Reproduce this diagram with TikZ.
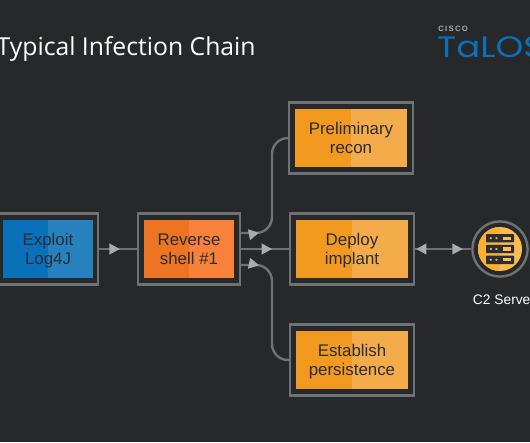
\documentclass[tikz,border=0pt]{standalone}
\usepackage{fontspec}
\setmainfont{Open Sans}
\newfontfamily\arialfont{Liberation Sans}
\newfontfamily\logofont{Poppins}
\usetikzlibrary{arrows.meta,decorations.markings}
\definecolor{bgdark}{HTML}{27282A}
\definecolor{wiregray}{HTML}{6E7275}
\definecolor{tipgray}{HTML}{A8ACAF}
\definecolor{inkdark}{HTML}{2A2D33}
\definecolor{blueL}{HTML}{0A70BA}
\definecolor{blueR}{HTML}{2781BF}
\definecolor{orangeL}{HTML}{EC7423}
\definecolor{orangeR}{HTML}{F8823B}
\definecolor{amberL}{HTML}{F29A20}
\definecolor{amberR}{HTML}{F4AC4A}
\definecolor{goldL}{HTML}{FBB034}
\definecolor{goldR}{HTML}{FDBD4E}
\tikzset{
  frame/.style={draw=wiregray,line width=.06cm,minimum width=2.5cm,minimum height=1.775cm},
  wideframe/.style={frame,minimum width=3.1cm},
  card/.style 2 args={minimum width=2.25cm,minimum height=1.45cm,fill=#2,text=inkdark,
    align=center,font=\arialfont\fontsize{12}{13.6}\selectfont,text height=.87cm,text depth=.09cm,
    path picture={\fill[#1] (path picture bounding box.south west) rectangle (path picture bounding box.north);}},
  widecard/.style 2 args={card={#1}{#2},minimum width=2.8cm},
  wire/.style={draw=wiregray,line width=.06cm},
  tipat/.style={postaction={decorate,decoration={markings,mark=at position #1 with {\arrow[tipgray]{Triangle[length=.26cm,width=.26cm]}}}}},
  tipback/.style={postaction={decorate,decoration={markings,mark=at position #1 with {\arrow[tipgray]{Triangle[reversed,length=.26cm,width=.26cm]}}}}}
}
\begin{document}
\begin{tikzpicture}
  \clip (0,0) rectangle (13.25,11.05);
  \fill[bgdark] (0,0) rectangle (13.25,11.05);

  \node[anchor=base west,text=white,inner sep=0pt,font=\fontsize{17.6}{22}\selectfont] (title) at (-.09,9.66) {Typical Infection Chain};
  \node[anchor=base west,text=tipgray,inner sep=0pt,font=\arialfont\bfseries\fontsize{5.5}{6}\selectfont] (cisco) at (10.95,10.26) {C\,I\,S\,C\,O};
  \node[anchor=base west,text=blueL,inner sep=0pt,xscale=1.2,font=\logofont\fontsize{21}{24}\selectfont] (talos) at (10.92,9.6) {TaLOS};

  \node[frame] (exploit) at (1.2,4.825) {};
  \node[card={blueL}{blueR}] (exploittxt) at (1.2,4.825) {Exploit\\Log4J};
  \node[frame,minimum width=2.55cm] (shell) at (4.725,4.825) {};
  \node[card={orangeL}{orangeR}] (shelltxt) at (4.725,4.825) {Reverse\\shell \#1};
  \node[wideframe] (recon) at (8.775,7.6) {};
  \node[widecard={amberL}{amberR}] (recontxt) at (8.775,7.6) {Preliminary\\recon};
  \node[wideframe] (implant) at (8.8,4.825) {};
  \node[widecard={amberL}{amberR}] (implanttxt) at (8.8,4.825) {Deploy\\implant};
  \node[wideframe] (persist) at (8.8,2.05) {};
  \node[widecard={amberL}{amberR}] (persisttxt) at (8.8,2.05) {Establish\\persistence};

  \node[draw=wiregray,line width=.06cm,circle,minimum size=1.38cm,inner sep=0pt] (c2) at (12.5,4.825) {};
  \node[circle,minimum size=1.1cm,inner sep=0pt,fill=goldR,
    path picture={\fill[goldL] (path picture bounding box.south west) rectangle (path picture bounding box.north);}] (c2icon) at (12.5,4.825) {};
  \foreach \row in {-.27,0,.27} {
    \fill[inkdark,rounded corners=.02cm] (12.15,4.825+\row-.105) rectangle (12.85,4.825+\row+.105);
    \fill[goldR] (12.27,4.825+\row) circle (.03) (12.41,4.825+\row) circle (.03);
    \fill[goldR] (12.57,4.825+\row-.04) rectangle (12.78,4.825+\row+.04);
  }
  \node[text=white,font=\arialfont\fontsize{9.8}{11}\selectfont] (c2txt) at (12.6,3.55) {C2 Server};

  \coordinate (shellup) at ([yshift=.4cm]shell.east);
  \coordinate (shelldown) at ([yshift=-.4cm]shell.east);
  \coordinate (bendup) at (6.8,7.6);
  \coordinate (benddown) at (6.8,2.05);

  \draw[wire,tipat=.55] (exploit) -- (shell);
  \draw[wire,tipat=.65] (shell) -- (implant);
  \draw[wire,rounded corners=.4cm,tipat=.14] (shellup) -| (bendup) -- (recon.west);
  \draw[wire,rounded corners=.4cm,tipat=.14] (shelldown) -| (benddown) -- (persist.west);
  \draw[wire,tipback=.2,tipat=.85] (implant) -- (c2);
\end{tikzpicture}
\end{document}
